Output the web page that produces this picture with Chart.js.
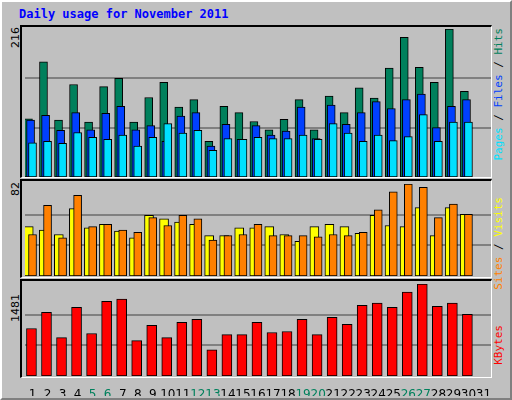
<!DOCTYPE html>
<html>
<head>
<meta charset="utf-8">
<script src="https://cdn.jsdelivr.net/npm/chart.js@4"></script>
<style>
  html, body { margin: 0; padding: 0; }
  body { width: 512px; height: 400px; background: #c0c0c0; position: relative; overflow: hidden; }
  .frame { position: absolute; left: 0; top: 0; width: 508px; height: 396px; border: 2px solid; border-color: #fff #808080 #808080 #fff; }
  .panel { position: absolute; left: 20px; width: 469px; border-style: solid; border-width: 2px 1px 1px 2px; border-color: #000 #fff #fff #000; }
  canvas { position: absolute; }
  .title { position: absolute; left: 19px; top: 7px; font: bold 12px "DejaVu Sans Mono", monospace; color: #0000ff; }
  .vl { position: absolute; writing-mode: vertical-rl; transform: rotate(180deg); white-space: nowrap; }
  .mx { font: 11px "DejaVu Sans", sans-serif; color: #000; left: 9px; }
  .key { font: 11px "DejaVu Sans Mono", monospace; left: 492px; }
</style>
</head>
<body>
<div class="frame"></div>
<div class="title">Daily usage for November 2011</div>
<div class="panel" style="top:25px;height:150px"></div>
<div class="panel" style="top:179px;height:96px"></div>
<div class="panel" style="top:279px;height:96px"></div>
<div class="vl mx" style="top:27px">216</div>
<div class="vl mx" style="top:182px">82</div>
<div class="vl mx" style="top:294px">1481</div>
<div class="vl key" style="top:28px"><span style="color:#00e0ff">Pages</span> / <span style="color:#0040ff">Files</span> / <span style="color:#00805c">Hits</span></div>
<div class="vl key" style="top:197px"><span style="color:#ff8000">Sites</span> / <span style="color:#ffff00">Visits</span></div>
<div class="vl key" style="top:325px;color:#ff0000">KBytes</div>
<canvas id="c1" style="left:25px;top:29px" width="466" height="148"></canvas>
<canvas id="c2" style="left:25px;top:184px" width="466" height="92"></canvas>
<canvas id="c3" style="left:25px;top:284px" width="466" height="112"></canvas>
<script>
const days = Array.from({length: 30}, (_, i) => i + 1);
const dayLabels = Array.from({length: 31}, (_, i) => i + 1);
const weekendDays = [5, 6, 12, 13, 19, 20, 26, 27];

const hits = [85, 168, 83, 135, 80, 132, 144, 80, 116, 138, 102, 113, 52, 103, 94, 81,
              69, 84, 113, 69, 118, 94, 130, 115, 159, 204, 160, 138, 216, 125];
const files = [83, 90, 68, 94, 69, 93, 103, 69, 75, 52, 89, 94, 45, 77, 55, 75,
               61, 67, 102, 56, 105, 77, 94, 110, 100, 113, 121, 72, 103, 113];
const pages = [50, 52, 49, 65, 58, 55, 61, 45, 58, 78, 64, 68, 39, 56, 55, 58,
               56, 56, 61, 55, 78, 64, 52, 61, 53, 59, 91, 52, 80, 80];
const visits = [44, 41, 37, 60, 43, 46, 40, 34, 54, 51, 48, 46, 36, 36, 43, 43,
                44, 37, 31, 44, 46, 44, 38, 54, 45, 44, 61, 36, 61, 55];
const sites = [37, 63, 34, 72, 44, 46, 41, 39, 52, 45, 54, 51, 32, 36, 37, 46,
               36, 36, 36, 35, 37, 36, 39, 59, 75, 82, 79, 52, 64, 55];
const kbytes = [765, 1025, 618, 1107, 684, 1204, 1237, 570, 814, 618, 863, 911, 423, 667, 667, 863,
                700, 716, 911, 667, 944, 830, 1139, 1172, 1107, 1351, 1481, 1123, 1172, 993];

const maxTop = 216, maxMid = 82, maxBot = 1481;

function series(values, shift, color, width) {
  return {
    data: values.map((v, i) => ({x: days[i] + shift, y: v})),
    backgroundColor: color,
    borderColor: '#000',
    borderWidth: 1,
    borderSkipped: false,
    barThickness: width,
    grouped: false
  };
}

function panel(id, datasets, max, showDays) {
  return new Chart(document.getElementById(id), {
    type: 'bar',
    data: { datasets: datasets },
    options: {
      responsive: false,
      animation: false,
      layout: { padding: 0 },
      plugins: { legend: { display: false }, tooltip: { enabled: false } },
      scales: {
        x: {
          type: 'linear', min: 0.5, max: 31.5,
          display: showDays,
          offset: false,
          grid: { display: false },
          border: { display: false },
          afterBuildTicks: s => { s.ticks = dayLabels.map(d => ({value: d})); },
          afterFit: s => { s.height = showDays ? 20 : 0; s.paddingLeft = 0; s.paddingRight = 0; },
          ticks: {
            padding: 4,
            autoSkip: false,
            maxRotation: 0,
            minRotation: 0,
            font: { family: 'DejaVu Sans', size: 12 },
            color: c => weekendDays.includes(c.tick.value) ? '#00805c' : '#000'
          }
        },
        y: {
          min: 0, max: max,
          afterBuildTicks: s => { s.ticks = [max / 3, 2 * max / 3].map(v => ({value: v})); },
          afterFit: s => { s.width = 0; },
          ticks: { display: false },
          border: { display: false },
          grid: { color: '#808080', lineWidth: 2, drawTicks: false }
        }
      }
    }
  });
}

panel('c1', [
  series(pages, 0, '#00e0ff', 8),
  series(files, -0.13, '#0040ff', 8),
  series(hits, -0.27, '#00805c', 8)
], maxTop, false);

panel('c2', [
  series(sites, 0, '#ff8000', 8),
  series(visits, -0.25, '#ffff00', 9)
], maxMid, false);

panel('c3', [
  series(kbytes, -0.07, '#ff0000', 10)
], maxBot, true);
</script>
</body>
</html>
